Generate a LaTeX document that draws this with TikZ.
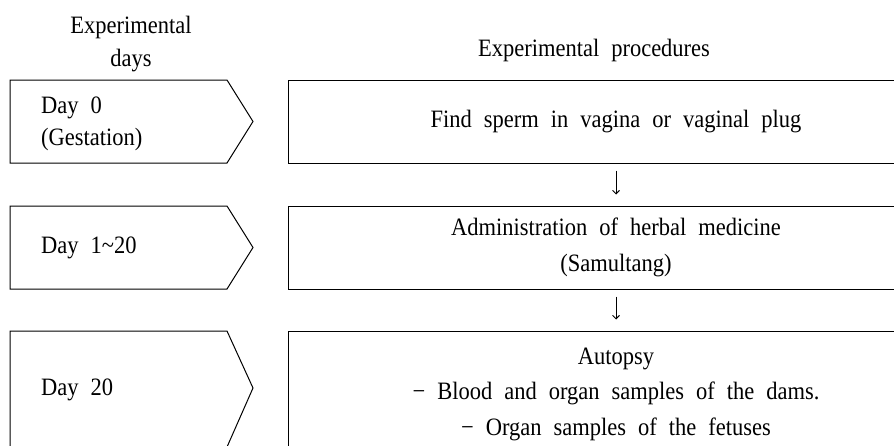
\documentclass[tikz,border=0pt]{standalone}
\usepackage{fontspec}
\setmainfont{Liberation Serif}[FakeStretch=0.9]
\usetikzlibrary{arrows.meta}
\newcommand\figfont{\fontsize{25}{32}\selectfont\spaceskip=12pt\relax}
\newcommand\hdrfont{\fontsize{25}{33}\selectfont\spaceskip=12pt\relax}
\newcommand\procfont{\fontsize{25}{35.5}\selectfont\spaceskip=12pt\relax}
\begin{document}
\begin{tikzpicture}[x=1pt,y=-1pt,
  lbl/.style={inner sep=0pt, font=\figfont},
  procbox/.style={draw, line width=1pt, minimum width=656pt, align=center, inner sep=0pt, font=\procfont},
  chev/.style={draw, line width=1pt, line join=miter},
  flow/.style={-{Straight Barb[length=3.5pt,width=7pt]}, line width=0.9pt, shorten <=7pt, shorten >=11pt}]
\useasboundingbox (0,0) rectangle (894,445);
\clip (0,0) rectangle (894,445);
% headers
\node[lbl, align=center, font=\hdrfont] (hdays) at (131,44) {Experimental\\days};
\node[lbl] (hproc) at (594,50) {Experimental procedures};
% day chevrons
\draw[chev] (10,80) -- (227,80) -- (253,121.5) -- (227,163) -- (10,163) -- cycle;
\draw[chev] (10,206) -- (227,206) -- (253,247.5) -- (227,289) -- (10,289) -- cycle;
\draw[chev] (10,331) -- (227,331) -- (253,388) -- (227,447) -- (10,447) -- cycle;
\node[lbl, align=left, anchor=west] (day0) at (41,124) {Day 0\\(Gestation)};
\node[lbl, anchor=west] (day1) at (41,247.5) {Day 1\textasciitilde20};
\node[lbl, anchor=west] (day20) at (41,390) {Day 20};
% procedure boxes
\node[procbox, minimum height=83pt] (p1) at (616,121.5) {Find sperm in vagina or vaginal plug};
\node[procbox, minimum height=83pt] (p2) at (616,247.5) {Administration of herbal medicine\\(Samultang)};
\node[procbox, minimum height=126pt] (p3) at (616,394) {Autopsy\\− Blood and organ samples of the dams.\\− Organ samples of the fetuses};
% arrows
\draw[flow] (p1.south) -- (p2.north);
\draw[flow] (p2.south) -- (p3.north);
\end{tikzpicture}
\end{document}
